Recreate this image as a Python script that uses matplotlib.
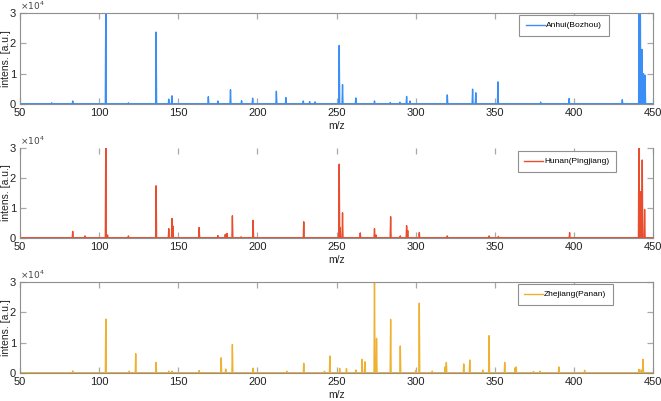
import matplotlib
matplotlib.use("Agg")
import matplotlib.pyplot as plt
import numpy as np

plt.rcParams['font.family'] = ['Liberation Sans', 'DejaVu Sans']

# peak lists (m/z, intensity)
anhui_mz = [70, 83.3, 104.2, 118.5, 136, 144, 146, 169, 175, 183, 190, 197, 212, 218,
            229, 233, 236.5, 251.7, 253.8, 262.2, 274, 284, 290, 294.3, 296.4, 320,
            336, 338, 352, 379, 397, 430.6, 441.2, 442, 443, 444, 445]
anhui_int = [400, 1000, 32000, 400, 23700, 1600, 2700, 2400, 1000, 4700, 1100, 1900, 4200, 2100,
             1000, 800, 700, 19300, 6400, 2000, 1000, 500, 600, 2500, 1000, 3000,
             4900, 3700, 7300, 600, 1800, 1400, 32000, 32000, 18000, 10000, 9500]

hunan_mz = [83.3, 91, 104.2, 105.3, 118.5, 136, 144, 146, 146.6, 163.2, 175, 179.7, 180.8,
            184.2, 189.7, 197.3, 229.3, 251.7, 252.3, 253.8, 265, 274, 275, 284.2, 290.3,
            294.3, 295, 302.3, 320, 346.4, 352.3, 397.3, 441.1, 442.4, 443.2, 444.7]
hunan_int = [2200, 700, 32000, 1000, 700, 17400, 3100, 6500, 4000, 3500, 800, 1200, 1500,
             7400, 400, 5900, 5400, 24600, 3500, 8400, 1700, 3100, 1000, 7100, 700,
             4100, 2500, 1800, 700, 700, 500, 1800, 32000, 15500, 26000, 9500]

zhejiang_mz = [83.3, 104.2, 119, 123.1, 136, 144, 146, 163.2, 177.1, 180, 184.2, 197.3,
               218.6, 229.3, 242.4, 245.8, 252, 256.3, 262.2, 266.2, 268, 274, 275.3, 284.2,
               290.3, 300, 302.3, 310.5, 318.6, 319.4, 330.4, 334.2, 342.4, 346.4, 356.3,
               362.8, 363.5, 374.5, 378.5, 390.5, 406.8, 441.1, 442.6, 443.7]
zhejiang_int = [700, 17800, 600, 6400, 3500, 600, 600, 800, 5000, 1300, 9400, 1600,
                600, 3200, 600, 5600, 1500, 1500, 1000, 4500, 3700, 32000, 11400, 17700,
                8900, 800, 23000, 600, 2000, 3500, 3000, 4300, 1000, 12300, 3500,
                1700, 2000, 500, 600, 2000, 900, 1200, 1000, 4500]

names = ['Anhui(Bozhou)', 'Hunan(Pingjiang)', 'Zhejiang(Panan)']
colors = ['#3a8ef5', '#e84e2e', '#f0b030']
legend_anchor = [(0.930, 0.978), (0.9415, 0.967), (0.937, 0.978)]
# axes boxes [left, bottom, width, height] in figure fractions
boxes = [[0.0303, 0.7406, 0.9576, 0.227],
         [0.0303, 0.4065, 0.9576, 0.2244],
         [0.0303, 0.0698, 0.9576, 0.227]]


def stick_profile(mz, inten, half=0.3):
    xs = [50]
    ys = [0]
    for m, h in sorted(zip(mz, inten)):
        xs += [m - half, m, m + half]
        ys += [0, h, 0]
    xs.append(450)
    ys.append(0)
    return np.array(xs), np.array(ys)


fig = plt.figure(figsize=(6.61, 4.01), dpi=100)
data = [(anhui_mz, anhui_int), (hunan_mz, hunan_int), (zhejiang_mz, zhejiang_int)]

for i in range(3):
    ax = fig.add_axes(boxes[i])
    x, y = stick_profile(*data[i])
    ax.plot(x, y, color=colors[i], lw=1.0, label=names[i])
    ax.axhline(0, color=colors[i], lw=2.0)
    ax.set_xlim(50, 450)
    ax.set_ylim(0, 30000)
    ax.set_xticks(np.arange(50, 451, 50))
    ax.set_yticks([0, 10000, 20000, 30000])
    ax.set_yticklabels(['0', '1', '2', '3'])
    ax.tick_params(direction='in', length=4.5, width=0.9, color='#a8a8a8',
                   labelsize=8, top=True, right=True, pad=3, labelcolor='#222222')
    for s in ax.spines.values():
        s.set_color('#8c9090')
        s.set_linewidth(0.8)
    if i == 1:
        ax.spines['top'].set_visible(False)
    ax.set_ylabel('intens. [a.u.]', fontsize=7.5, color='#222222')
    ax.yaxis.set_label_coords(-0.015, 0.5)
    ax.set_xlabel('m/z', fontsize=7.5, labelpad=2, color='#222222')
    ax.text(0.0, 1.015, r'$\times10^4$', transform=ax.transAxes, fontsize=6.5,
            color='#444444', ha='left', va='bottom')
    leg = ax.legend(loc='upper right', bbox_to_anchor=legend_anchor[i], borderaxespad=0,
                    fontsize=6, handlelength=2.3, fancybox=False, framealpha=1,
                    edgecolor='#909090', borderpad=0.8, handletextpad=0.1)
    leg.get_frame().set_linewidth(0.8)

fig.savefig('out.png', dpi=100)
